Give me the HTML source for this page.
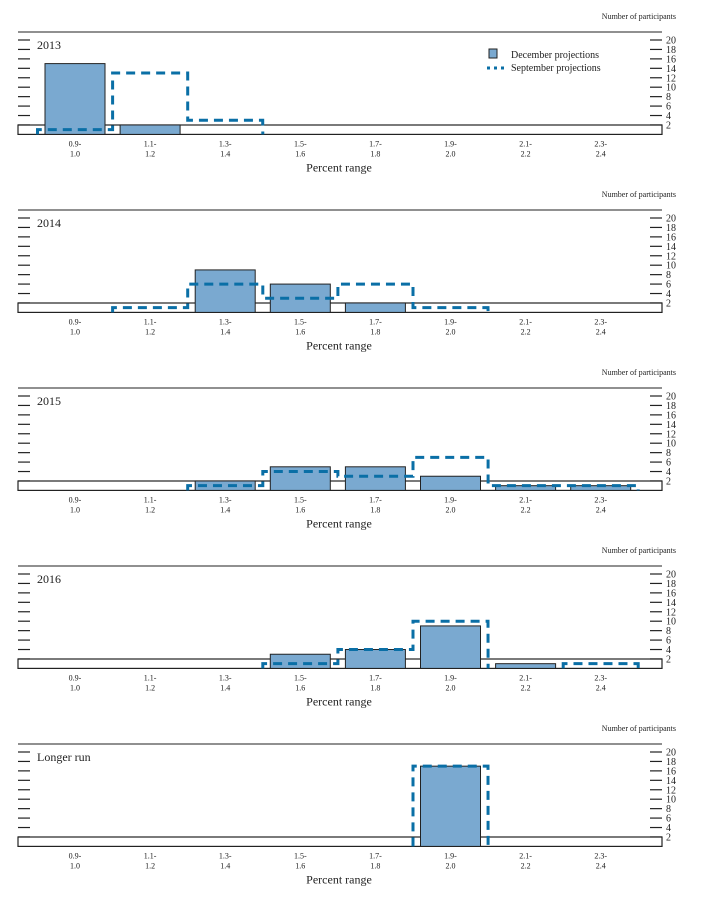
<!DOCTYPE html>
<html><head><meta charset="utf-8"><style>
body{margin:0;background:#fff;}
svg{display:block;font-family:"Liberation Serif",serif;}
</style></head><body>
<svg id="c" width="710" height="904" xmlns="http://www.w3.org/2000/svg"></svg>
<script>
const categories=["0.9-|1.0","1.1-|1.2","1.3-|1.4","1.5-|1.6","1.7-|1.8","1.9-|2.0","2.1-|2.2","2.3-|2.4"];
const panelTitles=["2013","2014","2015","2016","Longer run"];
const decValues=[
 [15,2,0,0,0,0,0,0],
 [0,0,9,6,2,0,0,0],
 [0,0,2,5,5,3,1,1],
 [0,0,0,3,4,9,1,0],
 [0,0,0,0,0,17,0,0]];
const sepValues=[
 [1,13,3,0,0,0,0,0],
 [0,1,6,3,6,1,0,0],
 [0,0,1,4,3,7,1,1],
 [0,0,0,1,4,10,0,1],
 [0,0,0,0,0,17,0,0]];
const yTicks=[2,4,6,8,10,12,14,16,18,20];

const svg=document.getElementById('c');
const NS="http://www.w3.org/2000/svg";
function mk(tag,attrs,parent){const e=document.createElementNS(NS,tag);for(const k in attrs)e.setAttribute(k,attrs[k]);(parent||svg).appendChild(e);return e;}
const L=18,R=662,step=178,unit=4.72;
const xC=i=>75+i*75.1;
for(let p=0;p<5;p++){
 const top=32+p*step, base=top+102.4;
 const y=v=>base-v*unit;
 const g=mk('g',{});
 
 
 let t=mk('text',{x:676,y:top-13,'font-size':8,'text-anchor':'end',fill:'#222'},g);t.textContent="Number of participants";
 
 mk('line',{x1:L,x2:R,y1:top,y2:top,stroke:'#222','stroke-width':1},g);
 mk('rect',{x:L,y:base-9.4,width:R-L,height:9.4,fill:'none',stroke:'#222','stroke-width':1.2},g);
 yTicks.forEach(v=>{
  mk('line',{x1:L,x2:L+12,y1:y(v),y2:y(v),stroke:'#222','stroke-width':1.2},g);
  mk('line',{x1:R-12,x2:R,y1:y(v),y2:y(v),stroke:'#222','stroke-width':1.2},g);
  const tl=mk('text',{x:666,y:y(v)+3.5,'font-size':10,fill:'#222'},g);tl.textContent=v;
  
 });
 t=mk('text',{x:37,y:top+17,'font-size':12,fill:'#222'},g);t.textContent=panelTitles[p];
 
 categories.forEach((c,i)=>{
  const [a,b]=c.split('|');
  let e=mk('text',{x:xC(i),y:base+12,'font-size':8,'text-anchor':'middle',fill:'#222'},g);e.textContent=a;
  
  e=mk('text',{x:xC(i),y:base+22,'font-size':8,'text-anchor':'middle',fill:'#222'},g);e.textContent=b;
  
 });
 t=mk('text',{x:339,y:base+37,'font-size':12,'text-anchor':'middle',fill:'#222'},g);t.textContent="Percent range";
 
 decValues[p].forEach((v,i)=>{
  if(!v)return;
  const r=mk('rect',{x:xC(i)-30,y:y(v),width:60,height:v*unit,fill:'#7aa9d0',stroke:'#222','stroke-width':1},g);
  
 });
 // september step outline
 const sv=sepValues[p];let d='';let prev=0;
 for(let i=0;i<sv.length;i++){
  const x0=xC(i)-37.5,x1=xC(i)+37.5;
  if(sv[i]){
   d+=(prev?' L':' M')+x0+','+y(prev)+' L'+x0+','+y(sv[i])+' L'+x1+','+y(sv[i]);
  } else if(prev){
   d+=' L'+x0+','+base;
  }
  prev=sv[i];
 }
 if(prev)d+=' L'+(xC(sv.length-1)+37.5)+','+base;
 if(d){
  const pa=mk('path',{d:d.trim(),fill:'none',stroke:'#0a6fa6','stroke-width':3,'stroke-dasharray':'9,6'},g);
  
 }
 if(p===0){
  const lg=mk('g',{},g);
  mk('rect',{x:489,y:49,width:8,height:9,fill:'#7aa9d0',stroke:'#222','stroke-width':1},lg);
  let e=mk('text',{x:511,y:58,'font-size':10,fill:'#222'},lg);e.textContent="December projections";
  
  mk('line',{x1:487,x2:504,y1:68,y2:68,stroke:'#0a6fa6','stroke-width':3,'stroke-dasharray':'3,4'},lg);
  e=mk('text',{x:511,y:71,'font-size':10,fill:'#222'},lg);e.textContent="September projections";
  
 }
}
</script>
</body></html>
